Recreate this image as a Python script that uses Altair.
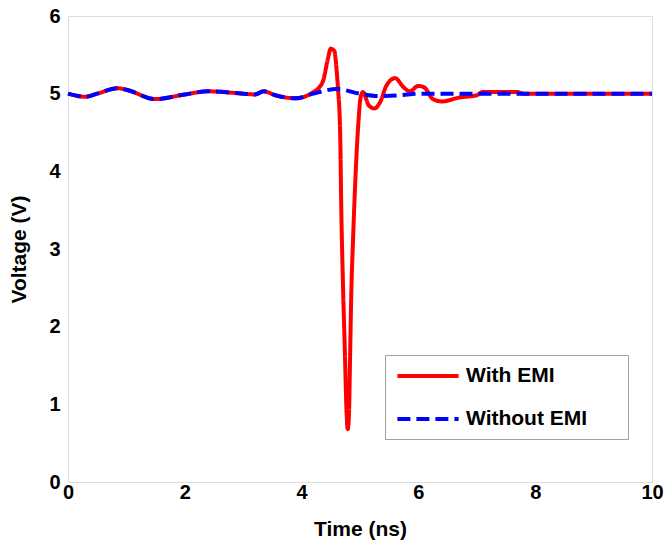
import altair as alt
import pandas as pd

# With EMI (red, solid)
t_emi = [0, 0.3, 0.5, 0.85, 1.0, 1.5, 2.0, 2.4, 3.0, 3.2, 3.35, 3.55, 3.9, 4.2, 4.3, 4.37,
         4.45, 4.5, 4.56, 4.6, 4.62, 4.66, 4.68, 4.71, 4.74, 4.77, 4.79, 4.81, 4.83, 4.85,
         4.88, 4.93, 4.97, 5.01, 5.05, 5.15, 5.25, 5.35, 5.45, 5.6, 5.75, 5.85, 6.0, 6.1, 6.25,
         6.4, 6.7, 7.0, 7.1, 7.7, 7.8, 10]
v_emi = [5.0, 4.96, 5.0, 5.07, 5.05, 4.93, 4.99, 5.03, 5.0, 4.99, 5.03, 4.98, 4.94, 5.02, 5.08, 5.17,
         5.45, 5.58, 5.55, 5.3, 5.1, 4.5, 3.5, 2.5, 1.7, 0.9, 0.68, 0.85, 1.6, 2.4,
         3.1, 4.05, 4.6, 4.95, 5.02, 4.85, 4.81, 4.9, 5.1, 5.2, 5.08, 5.03, 5.1, 5.08, 4.93,
         4.9, 4.95, 4.98, 5.02, 5.02, 5.0, 5.0]

# Without EMI (blue, dashed)
t_no = [0, 0.3, 0.5, 0.85, 1.0, 1.5, 2.0, 2.4, 3.0, 3.2, 3.35, 3.55, 3.9, 4.2, 4.6, 5.0,
        5.3, 5.7, 6.0, 10]
v_no = [5.0, 4.96, 5.0, 5.07, 5.05, 4.93, 4.99, 5.03, 5.0, 4.99, 5.03, 4.98, 4.94, 5.0, 5.06, 5.0,
        4.97, 4.98, 5.0, 5.0]

series = ["With EMI", "Without EMI"]
x_ticks = [0, 2, 4, 6, 8, 10]
y_ticks = [0, 1, 2, 3, 4, 5, 6]

df = pd.concat([
    pd.DataFrame({"t": t_emi, "v": v_emi, "s": series[0], "o": 0}),
    pd.DataFrame({"t": t_no, "v": v_no, "s": series[1], "o": 1}),
])

FONT = "Liberation Sans"
PAD = "\u2800" * 2


def legend():
    return alt.Legend(
        title=None, orient="none", legendX=317, legendY=339,
        symbolType="M-3.4,0H3.4", symbolSize=324, symbolStrokeWidth=4, symbolOffset=22,
        labelFontSize=21, labelFontWeight="bold", labelFont=FONT,
        labelColor="black", padding=10, rowPadding=22, labelLimit=300,
        labelOffset=27, strokeColor="#a0a0a0", fillColor="white",
        labelExpr="datum.label + '" + PAD + "'",
    )


axis_common = dict(
    grid=False, labelFontSize=20, labelFontWeight="bold", labelFont=FONT,
    titleFontSize=21, titleFontWeight="bold", titleFont=FONT,
    tickSize=0, domain=False, labelColor="black", titleColor="black", labelFlush=False,
)

chart = alt.Chart(df).mark_line(strokeWidth=4, interpolate="monotone").encode(
    x=alt.X("t:Q", scale=alt.Scale(domain=[0, 10], nice=False),
            axis=alt.Axis(values=x_ticks, title="Time (ns)", labelPadding=0, titlePadding=16,
                          **axis_common)),
    y=alt.Y("v:Q", scale=alt.Scale(domain=[0, 6], nice=False),
            axis=alt.Axis(values=y_ticks, title="Voltage (V)", labelPadding=8, titlePadding=19,
                          **axis_common)),
    color=alt.Color("s:N", scale=alt.Scale(domain=series, range=["#ff0000", "#0000ff"]),
                    legend=legend()),
    strokeDash=alt.StrokeDash("s:N", scale=alt.Scale(domain=series, range=[[1, 0], [13, 6]]),
                              legend=legend()),
    order="o:Q",
).properties(
    width=584, height=466,
    autosize=alt.AutoSizeParams(type="none"),
    padding={"left": 68, "top": 16, "right": 12, "bottom": 62},
).configure_view(
    stroke="#b0b0b0", strokeWidth=1
).configure(background="white")

chart.save("out.html", embed_options={"renderer": "svg", "actions": False})
